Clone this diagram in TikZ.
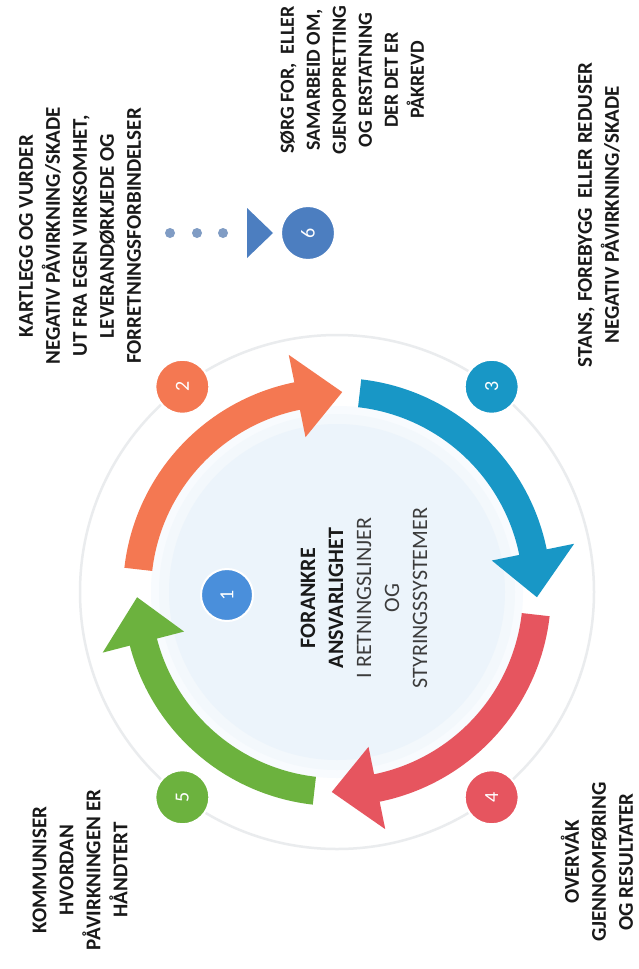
\documentclass[tikz,border=0pt]{standalone}
\usepackage{fontspec}
\setmainfont{Carlito}
\definecolor{corange}{RGB}{244,120,82}
\definecolor{cblue}{RGB}{24,151,198}
\definecolor{cred}{RGB}{230,85,95}
\definecolor{cgreen}{RGB}{108,178,62}
\definecolor{cone}{RGB}{74,143,219}
\definecolor{csix}{RGB}{76,126,192}
\definecolor{cdots}{RGB}{128,156,196}
\definecolor{pale}{RGB}{236,244,251}
\definecolor{ringc}{RGB}{234,236,238}
\definecolor{txt}{RGB}{25,25,25}
\definecolor{txtgrey}{RGB}{60,60,60}
\tikzset{
  lbl/.style={rotate=90, align=center, text=txt, inner sep=0pt, font=\fontsize{21}{27}\selectfont\bfseries},
  numc/.style={circle, minimum size=54pt, inner sep=0pt, draw=white, line width=2pt, text=white, font=\fontsize{20}{20}\selectfont, rotate=90},
  dotc/.style={circle, fill=cdots, minimum size=10pt, inner sep=0pt},
}
\newcommand\cyclearrow[3]{%
  \fill[#1] (#2:214) arc[start angle=#2, end angle=#3+13, radius=214]
    -- (#3+13:242) -- (#3:200) -- (#3+13:158) -- (#3+13:186)
    arc[start angle=#3+13, end angle=#2, radius=186] -- cycle;}
\begin{document}
\begin{tikzpicture}[x=1pt,y=1pt]
\fill[white] (0,0) rectangle (638,-969);
\useasboundingbox (0,0) rectangle (638,-969);
\begin{scope}[shift={(337,-592)}]
  \fill[pale!35] (0,0) circle[radius=186];
  \fill[pale!65] (0,0) circle[radius=178];
  \fill[pale] (0,0) circle[radius=168];
  \draw[ringc, line width=2.5pt] (0,0) circle[radius=257];
  \cyclearrow{corange}{173.5}{88.5}
  \cyclearrow{cblue}{83.5}{-1.5}
  \cyclearrow{cred}{-6.5}{-91.5}
  \cyclearrow{cgreen}{-96.5}{-178.5}
  \node[numc, fill=corange] (n2) at (127:257) {2};
  \node[numc, fill=cblue] (n3) at (53:257) {3};
  \node[numc, fill=cred] (n4) at (-53:257) {4};
  \node[numc, fill=cgreen] (n5) at (-127:257) {5};
\end{scope}
\node[numc, fill=cone, minimum size=52pt] (n1) at (227,-595) {1};
\node[numc, fill=csix] (n6) at (308,-233) {6};
\fill[csix] (247,-208) -- (273,-233) -- (247,-258) -- cycle;
\node[dotc] (d1) at (170,-233) {};
\node[dotc] (d2) at (197,-233) {};
\node[dotc] (d3) at (223,-233) {};
\node[lbl] (t2) at (80,-236) {KARTLEGG OG VURDER\\NEGATIV PÅVIRKNING/SKADE\\UT FRA EGEN VIRKSOMHET,\\LEVERANDØRKJEDE OG\\FORRETNINGSFORBINDELSER};
\node[lbl, font=\fontsize{20}{26}\selectfont\bfseries] (t6) at (352,-80) {SØRG FOR,\ \ ELLER\\SAMARBEID OM,\\GJENOPPRETTING\\OG ERSTATNING\\DER DET ER\\PÅKREVD};
\node[lbl] (t3) at (599,-215) {STANS, FOREBYGG\ \ ELLER REDUSER\\NEGATIV PÅVIRKNING/SKADE};
\node[lbl] (t5) at (80,-870) {KOMMUNISER\\HVORDAN\\PÅVIRKNINGEN ER\\HÅNDTERT};
\node[lbl] (t4) at (597,-862) {OVERVÅK\\GJENNOMFØRING\\OG RESULTATER};
\node[lbl, font=\fontsize{22}{28}\selectfont] (t1) at (364,-598) {\textbf{FORANKRE}\\\textbf{ANSVARLIGHET}\\\textcolor{txtgrey}{I RETNINGSLINJER}\\\textcolor{txtgrey}{OG}\\\textcolor{txtgrey}{STYRINGSSYSTEMER}};
\end{tikzpicture}
\end{document}
